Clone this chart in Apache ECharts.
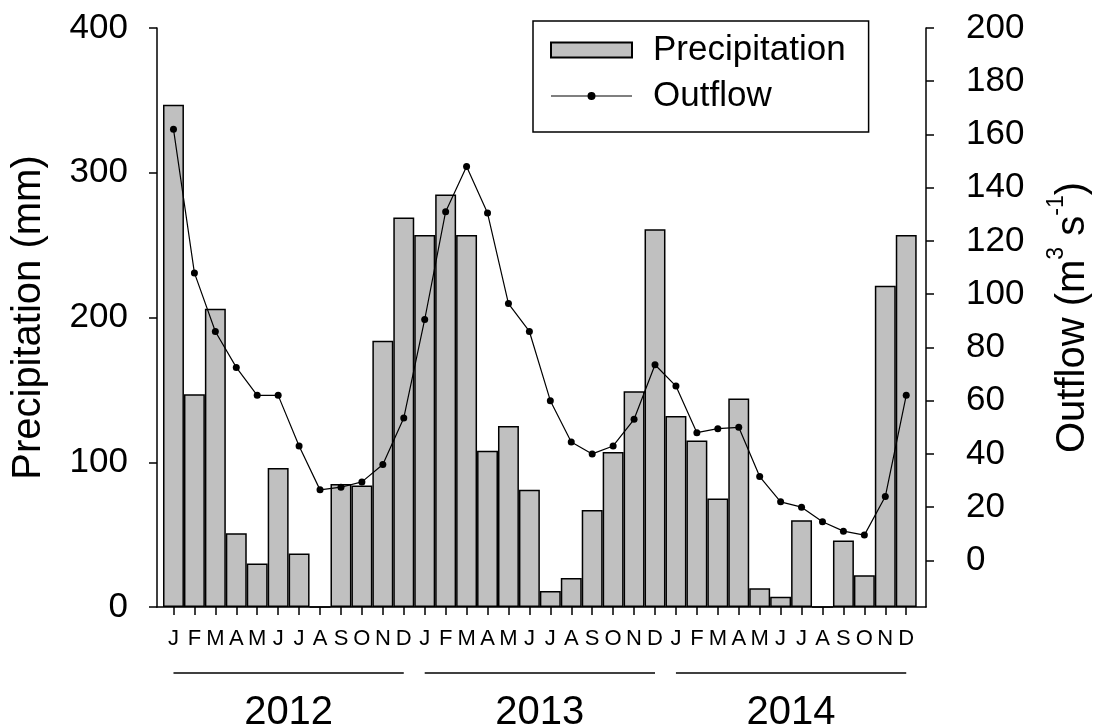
<!DOCTYPE html>
<html>
<head>
<meta charset="utf-8">
<script src="https://cdn.jsdelivr.net/npm/echarts@6/dist/echarts.min.js"></script>
<style>
  html, body { margin: 0; padding: 0; background: #fff; }
  #chart { width: 1096px; height: 726px; }
</style>
</head>
<body>
<div id="chart"></div>
<script>
// Monthly precipitation (mm) and mean outflow (m3/s), 2012-2014
const months = ['J', 'F', 'M', 'A', 'M', 'J', 'J', 'A', 'S', 'O', 'N', 'D'];
const years = ['2012', '2013', '2014'];
const precipitation = [
  347, 147, 206, 51, 30, 96, 37, 0, 85, 84, 184, 269,
  257, 285, 257, 108, 125, 81, 11, 20, 67, 107, 149, 261,
  132, 115, 75, 144, 13, 7, 60, 0, 46, 22, 222, 257
];
const outflow = [
  162, 108, 86, 72.5, 62, 62, 43, 26.5, 27.5, 29.5, 36, 53.5,
  90.5, 131, 148, 130.5, 96.5, 86, 60, 44.5, 40, 43, 53, 73.5,
  65.5, 48, 49.5, 50, 31.5, 22, 20, 14.5, 11, 9.5, 24, 62
];
const precipTicks = [0, 100, 200, 300, 400];
const outflowTicks = [0, 20, 40, 60, 80, 100, 120, 140, 160, 180, 200];

const FONT = '"Liberation Sans", Arial, Helvetica, sans-serif';
const NARROW_FONT = '"Liberation Sans Narrow", "Arial Narrow", "Liberation Sans", Arial, sans-serif';
const BLACK = '#000';
const monthIdx = precipitation.map((_, i) => i);
const X_MIN = -0.787, X_MAX = 35.944;
const axisLineStyle = { color: BLACK, width: 1.5 };

// legend glyph for the outflow series: thin line with a dot in the middle
const OUTFLOW_ICON = 'path://M0,0h0.05v0.05h-0.05z M80.95,14.95h0.05v0.05h-0.05z ' +
  'M0,6.9H81V8.1H0z M36.5,7.5a4,4 0 1,1 8,0a4,4 0 1,1 -8,0z';

const chart = echarts.init(document.getElementById('chart'), null, { renderer: 'canvas' });

const yearLines = years.map((y, k) => ({
  type: 'line',
  xAxisIndex: 1,
  yAxisIndex: 2,
  data: [[k * months.length, 0.5], [k * months.length + months.length - 1, 0.5]],
  symbol: 'none',
  silent: true,
  lineStyle: { color: BLACK, width: 1.5 }
}));

const option = {
  animation: false,
  backgroundColor: '#fff',
  textStyle: { fontFamily: FONT, color: BLACK },
  grid: [
    { left: 157, right: 170, top: 28, bottom: 119, outerBoundsMode: 'none', containLabel: false },
    { left: 157, right: 170, top: 663, height: 20, outerBoundsMode: 'none', containLabel: false }
  ],
  legend: {
    orient: 'vertical',
    left: 533,
    top: 21,
    backgroundColor: '#fff',
    borderColor: BLACK,
    borderWidth: 1.5,
    borderRadius: 0,
    padding: [9, 23, 16, 17],
    itemGap: 6,
    itemWidth: 81,
    itemHeight: 15,
    textStyle: { fontFamily: FONT, fontSize: 35, lineHeight: 40, color: BLACK, padding: [0, 0, 0, 16] },
    data: [
      { name: 'Precipitation', icon: 'rect' },
      { name: 'Outflow', icon: OUTFLOW_ICON }
    ]
  },
  xAxis: [
    {
      type: 'value',
      gridIndex: 0,
      min: X_MIN,
      max: X_MAX,
      axisLine: { show: true, onZero: false, lineStyle: axisLineStyle },
      axisTick: { show: true, length: 8, lineStyle: axisLineStyle, customValues: monthIdx },
      axisLabel: {
        customValues: monthIdx,
        formatter: v => months[Math.round(v) % months.length],
        fontFamily: NARROW_FONT, fontSize: 22, color: BLACK, margin: 21
      },
      splitLine: { show: false }
    },
    {
      type: 'value',
      gridIndex: 1,
      min: X_MIN,
      max: X_MAX,
      axisLine: { show: false },
      axisTick: { show: false },
      splitLine: { show: false },
      axisLabel: {
        customValues: years.map((_, k) => k * months.length + (months.length - 1) / 2),
        formatter: v => years[Math.round((v - (months.length - 1) / 2) / months.length)],
        fontFamily: FONT, fontSize: 40, color: BLACK, margin: 10
      }
    }
  ],
  yAxis: [
    {
      type: 'value',
      gridIndex: 0,
      position: 'left',
      min: precipTicks[0],
      max: precipTicks[precipTicks.length - 1],
      interval: precipTicks[1] - precipTicks[0],
      name: 'Precipitation (mm)',
      nameLocation: 'middle',
      nameGap: 108,
      nameTextStyle: { fontFamily: FONT, fontSize: 40, color: BLACK },
      axisLine: { show: true, onZero: false, lineStyle: axisLineStyle },
      axisTick: { show: true, length: 8, lineStyle: axisLineStyle },
      axisLabel: { fontFamily: FONT, fontSize: 35, color: BLACK, margin: 29 },
      splitLine: { show: false }
    },
    {
      type: 'value',
      gridIndex: 0,
      position: 'right',
      min: -17.5,
      max: outflowTicks[outflowTicks.length - 1],
      name: '{t|Outflow (m}{s|3}{t| s}{s|-1}{t|)}',
      nameLocation: 'middle',
      nameGap: 119,
      nameTextStyle: {
        rich: {
          t: { fontFamily: FONT, fontSize: 40, lineHeight: 56, color: BLACK },
          s: { fontFamily: FONT, fontSize: 23, lineHeight: 22, verticalAlign: 'top', color: BLACK }
        }
      },
      axisLine: { show: true, onZero: false, lineStyle: axisLineStyle },
      axisTick: { show: true, length: 8, lineStyle: axisLineStyle, customValues: outflowTicks },
      axisLabel: { customValues: outflowTicks, fontFamily: FONT, fontSize: 35, color: BLACK, margin: 40 },
      splitLine: { show: false }
    },
    {
      type: 'value',
      gridIndex: 1,
      min: 0,
      max: 1,
      show: false
    }
  ],
  series: [
    {
      name: 'Precipitation',
      type: 'bar',
      xAxisIndex: 0,
      yAxisIndex: 0,
      data: precipitation.map((v, i) => [i, v]),
      barWidth: 20.94,
      itemStyle: { color: '#c0c0c0', borderColor: BLACK, borderWidth: 1.5 },
      z: 2
    },
    {
      name: 'Outflow',
      type: 'line',
      xAxisIndex: 0,
      yAxisIndex: 1,
      data: outflow.map((v, i) => [i, v]),
      symbol: 'circle',
      symbolSize: 7,
      lineStyle: { color: BLACK, width: 1.2 },
      itemStyle: { color: BLACK },
      z: 3
    },
    ...yearLines
  ]
};

chart.setOption(option);
</script>
</body>
</html>
